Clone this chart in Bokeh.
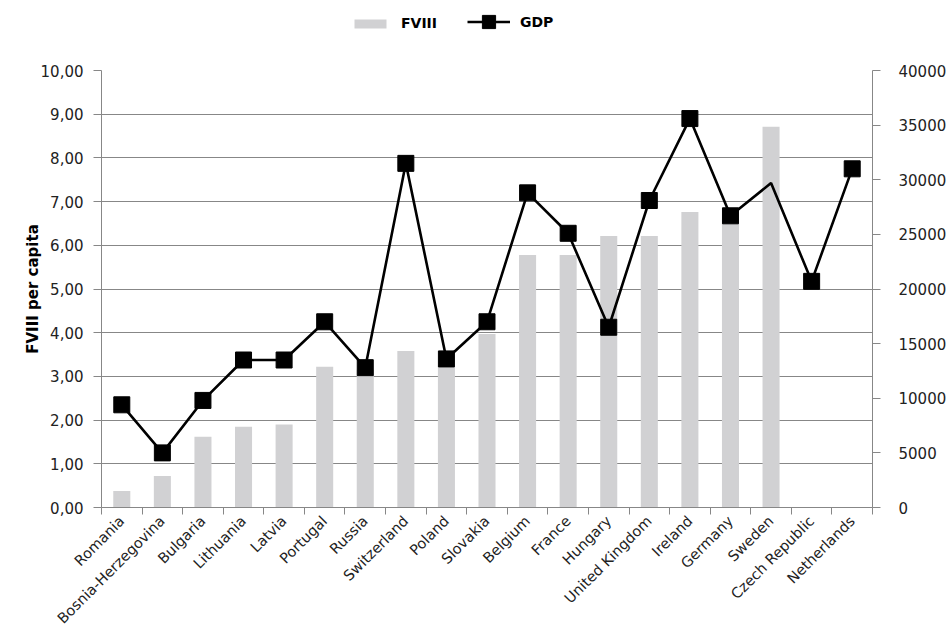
import math
from bokeh.plotting import figure
from bokeh.layouts import column
from bokeh.models import Range1d, LinearAxis, FixedTicker, Legend, LegendItem
from bokeh.embed import file_html
from bokeh.resources import INLINE

nan = float("nan")

countries = ["Romania", "Bosnia-Herzegovina", "Bulgaria", "Lithuania", "Latvia",
             "Portugal", "Russia", "Switzerland", "Poland", "Slovakia", "Belgium",
             "France", "Hungary", "United Kingdom", "Ireland", "Germany", "Sweden",
             "Czech Republic", "Netherlands"]
fviii = [0.38, 0.72, 1.62, 1.85, 1.90, 3.22, 3.15, 3.58, 3.25, 3.97, 5.78,
         5.78, 6.21, 6.21, 6.76, 6.60, 8.71, nan, nan]
gdp = [9400, 5000, 9800, 13500, 13500, 17000, 12800, 31500, 13600, 17000, 28800,
       25100, 16500, 28100, 35600, 26700, 29700, 20700, 31000]
gdp_has_marker = [True] * 16 + [False] + [True, True]
fviii_ticks = [0, 1, 2, 3, 4, 5, 6, 7, 8, 9, 10]
gdp_ticks = [0, 5000, 10000, 15000, 20000, 25000, 30000, 35000, 40000]

n = len(countries)
xs = [i + 0.5 for i in range(n)]
mx = [x for x, m in zip(xs, gdp_has_marker) if m]
my = [g for g, m in zip(gdp, gdp_has_marker) if m]

GRID = "#878787"
TXT = "#222222"
FONT = "DejaVu Sans"
BAR = "#d1d1d3"
LEG_H = 40

# ---------- main chart ----------
p = figure(width=949, height=636 - LEG_H, x_range=Range1d(0, n), y_range=Range1d(0, 10),
           output_backend="svg", toolbar_location=None,
           min_border_left=101, min_border_right=76, min_border_top=70 - LEG_H,
           min_border_bottom=129)
p.extra_y_ranges = {"gdp": Range1d(0, 40000)}
p.outline_line_color = None

p.xgrid.visible = False
p.ygrid.ticker = FixedTicker(ticks=fviii_ticks)
p.ygrid.grid_line_color = GRID
p.ygrid.grid_line_width = 1

p.vbar(x=xs, top=fviii, width=0.42, fill_color=BAR, line_color=None)
p.line(xs, gdp, y_range_name="gdp", line_color="black", line_width=2.6)
p.scatter(mx, my, y_range_name="gdp", marker="square", size=16,
          fill_color="black", line_color="black")

ya = p.yaxis[0]
ya.ticker = FixedTicker(ticks=fviii_ticks)
ya.major_label_overrides = {t: f"{t:.2f}".replace(".", ",") for t in fviii_ticks}
ya.axis_label = "FVIII per capita"
ya.axis_label_text_font = FONT
ya.axis_label_text_font_style = "bold"
ya.axis_label_text_font_size = "15px"
ya.axis_label_text_color = "black"
ya.axis_label_standoff = -4
ya.major_label_text_font = FONT
ya.major_label_text_font_size = "15px"
ya.major_label_text_color = TXT
ya.major_label_standoff = 10
ya.major_tick_out = 8
ya.major_tick_in = 0
ya.minor_tick_line_color = None
ya.axis_line_color = GRID
ya.major_tick_line_color = GRID

ra = LinearAxis(y_range_name="gdp", ticker=FixedTicker(ticks=gdp_ticks))
ra.major_label_text_font = FONT
ra.major_label_text_font_size = "15px"
ra.major_label_text_color = TXT
ra.major_label_standoff = 18
ra.major_tick_out = 8
ra.major_tick_in = 0
ra.minor_tick_line_color = None
ra.axis_line_color = GRID
ra.major_tick_line_color = GRID
p.add_layout(ra, "right")

xa = p.xaxis[0]
xa.ticker = FixedTicker(ticks=xs, minor_ticks=list(range(n + 1)))
xa.major_label_overrides = {x: c for x, c in zip(xs, countries)}
xa.major_label_orientation = math.pi / 4
xa.major_label_text_font = FONT
xa.major_label_text_font_size = "14.5px"
xa.major_label_text_color = TXT
xa.major_label_standoff = 4
xa.major_tick_line_color = None
xa.major_tick_out = 0
xa.major_tick_in = 0
xa.minor_tick_line_color = GRID
xa.minor_tick_out = 7
xa.minor_tick_in = 0
xa.axis_line_color = GRID

# ---------- legend strip ----------
lg = figure(width=949, height=LEG_H, x_range=Range1d(0, n), y_range=Range1d(50, 51),
            output_backend="svg", toolbar_location=None,
            x_axis_type=None, y_axis_type=None, min_border=0)
lg.outline_line_color = None
lg.xgrid.visible = False
lg.ygrid.visible = False
lg.extra_y_ranges = {"gdp": Range1d(50000, 51000)}
# key renderers share the data but lie outside this strip's ranges
bar_key = lg.vbar(x=xs, top=fviii, width=0.42, fill_color=BAR, line_color=None)
line_key = lg.line(xs, gdp, y_range_name="gdp", line_color="black", line_width=2.6)
mark_key = lg.scatter(mx, my, y_range_name="gdp", marker="square", size=16,
                      fill_color="black", line_color="black")

common = dict(orientation="horizontal", padding=0, margin=0, border_line_color=None,
              background_fill_alpha=0, label_text_font=FONT,
              label_text_font_style="bold", label_text_font_size="14px",
              label_text_color="black")
leg1 = Legend(items=[LegendItem(label="FVIII", renderers=[bar_key])],
              location=(249, 9), glyph_width=40, glyph_height=11, label_height=11,
              label_standoff=11, **common)
leg2 = Legend(items=[LegendItem(label="GDP", renderers=[line_key, mark_key])],
              location=(366, 2), glyph_width=43, glyph_height=33, label_height=11,
              label_standoff=10, **common)
lg.add_layout(leg1)
lg.add_layout(leg2)

open("out.html", "w").write(file_html(column(lg, p, spacing=0), INLINE))
